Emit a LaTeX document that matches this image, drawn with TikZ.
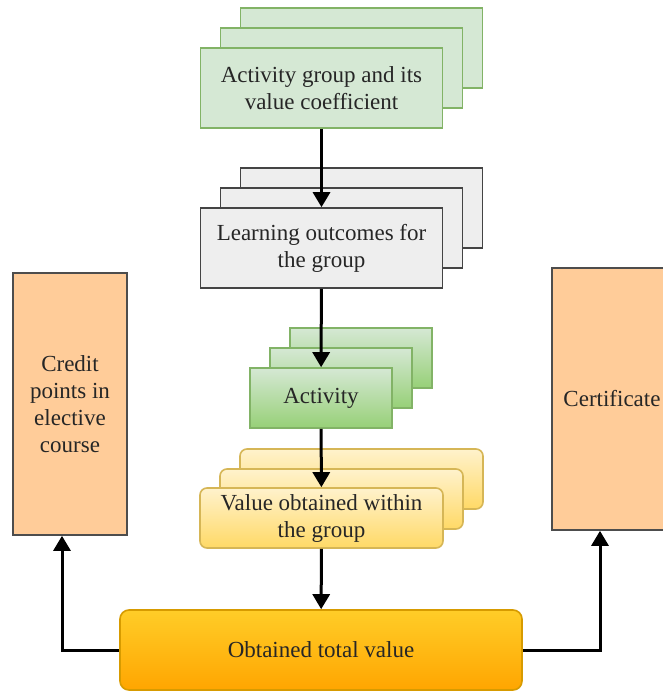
\documentclass[tikz,border=0pt]{standalone}
\usepackage{fontspec}
\setmainfont{Liberation Serif}
\usepackage{tikz}
\usetikzlibrary{positioning, arrows.meta}

\definecolor{grpfill}{HTML}{D5E8D4}
\definecolor{grpline}{HTML}{82B366}
\definecolor{outfill}{HTML}{EEEEEE}
\definecolor{outline}{HTML}{444444}
\definecolor{actdark}{HTML}{97D077}
\definecolor{valtop}{HTML}{FFF2CC}
\definecolor{valbot}{HTML}{FFD966}
\definecolor{valline}{HTML}{D6B656}
\definecolor{tottop}{HTML}{FFCD28}
\definecolor{totbot}{HTML}{FFA500}
\definecolor{totline}{HTML}{D79B00}
\definecolor{endfill}{HTML}{FFCC99}
\definecolor{endline}{HTML}{4D4D4D}

\begin{document}
\begin{tikzpicture}[x=1pt, y=-1pt,
  box/.style={rectangle, align=center, line width=1.6pt, text=black!85,
    font=\fontsize{23}{27}\selectfont, inner sep=2pt},
  grpbox/.style={box, draw=grpline, fill=grpfill, minimum width=242pt, minimum height=80pt},
  outbox/.style={box, draw=outline, fill=outfill, minimum width=242pt, minimum height=80pt},
  actbox/.style={box, draw=grpline, top color=grpfill, bottom color=actdark, minimum width=142pt, minimum height=60pt},
  valbox/.style={box, draw=valline, top color=valtop, bottom color=valbot, rounded corners=7pt, minimum width=243pt, minimum height=60pt},
  totbox/.style={box, draw=totline, top color=tottop, bottom color=totbot, rounded corners=9pt, minimum width=402pt, minimum height=80pt},
  endbox/.style={box, draw=endline, fill=endfill, minimum height=262pt},
  arr/.style={-{Triangle[length=15pt, width=17pt]}, line width=3pt}
]
  \useasboundingbox (0,0) rectangle (663,691);
  \clip (0,0) rectangle (663,691);

  % activity groups
  \node[grpbox] (grpC) at (361.5,48) {};
  \node[grpbox] (grpB) at (341.5,68) {};
  \node[grpbox] (grpA) at (321.5,88) {Activity group and its\\value coefficient};

  % learning outcomes
  \node[outbox] (outC) at (361.5,208) {};
  \node[outbox] (outB) at (341.5,228) {};
  \node[outbox] (outA) at (321.5,248) {Learning outcomes for\\the group};

  % activities
  \node[actbox] (actC) at (361,358) {};
  \node[actbox] (actB) at (341,378) {};
  \node[actbox] (actA) at (321,398) {Activity};

  % values
  \node[valbox] (valC) at (361.5,479) {};
  \node[valbox] (valB) at (341.5,499) {};
  \node[valbox] (valA) at (321.5,518) {Value obtained within\\the group};

  \node[totbox] (total) at (321,650) {Obtained total value};

  \node[endbox, minimum width=114pt] (credit) at (70,404) {Credit\\points in\\elective\\course};
  \node[endbox, minimum width=120pt] (cert) at (612,399) {Certificate};

  \draw[arr] (grpA) -- (outA);
  \draw[arr] (outA) -- (actA);
  \draw[arr] (actA) -- (valA);
  \draw[arr] (valA) -- (total);
  \draw[arr] (total.west) -| ([xshift=-8pt]credit.south);
  \draw[arr] (total.east) -| ([xshift=-12pt]cert.south);
\end{tikzpicture}
\end{document}
